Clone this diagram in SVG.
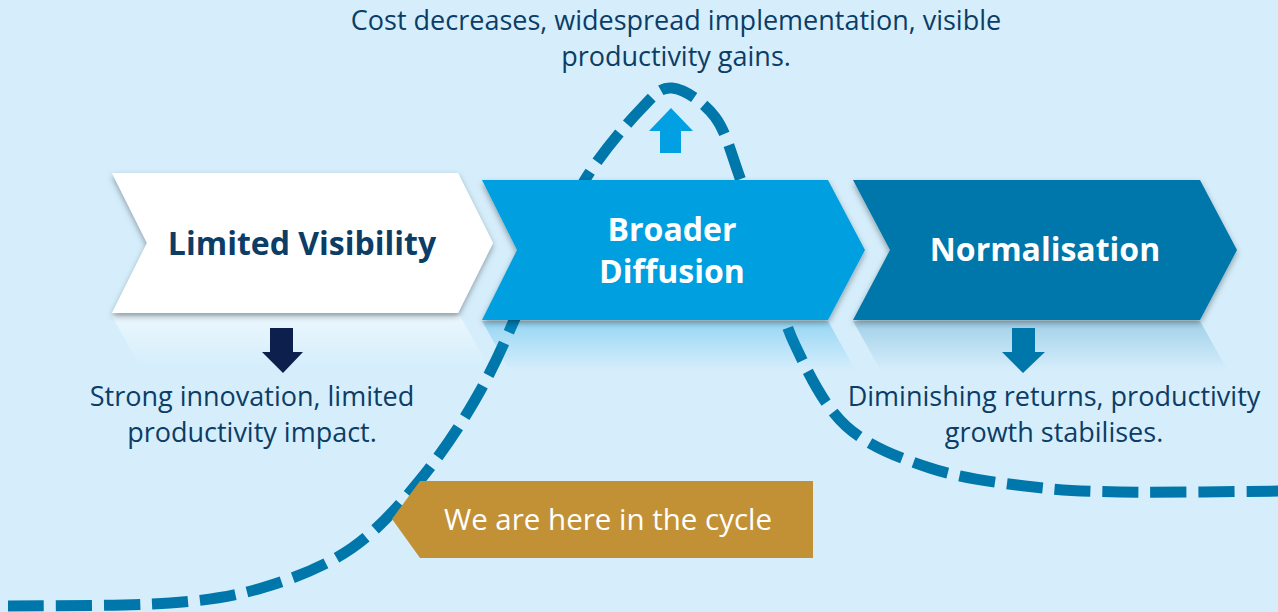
<svg xmlns="http://www.w3.org/2000/svg" width="1278" height="612" viewBox="0 0 1278 612">
<defs>
<style>
.t{font-family:"Open Sans","Noto Sans","Liberation Sans",sans-serif;}
.body{font-size:27px;fill:#0B3D66;text-anchor:middle;}
.title{font-size:32px;font-weight:bold;text-anchor:middle;}
.curve{fill:none;stroke:#0077AA;stroke-width:11;stroke-dasharray:36 12;}
</style>
<filter id="sh" x="-10%" y="-10%" width="120%" height="130%">
<feDropShadow dx="0" dy="3" stdDeviation="3" flood-color="#000" flood-opacity="0.35"/>
</filter>
<linearGradient id="rw" x1="0" y1="0" x2="0" y2="1">
<stop offset="0" stop-color="#ffffff" stop-opacity="0.5"/>
<stop offset="1" stop-color="#ffffff" stop-opacity="0"/>
</linearGradient>
<linearGradient id="rb" x1="0" y1="0" x2="0" y2="1">
<stop offset="0" stop-color="#009FE0" stop-opacity="0.3"/>
<stop offset="1" stop-color="#009FE0" stop-opacity="0"/>
</linearGradient>
<linearGradient id="rd" x1="0" y1="0" x2="0" y2="1">
<stop offset="0" stop-color="#0077AA" stop-opacity="0.25"/>
<stop offset="1" stop-color="#0077AA" stop-opacity="0"/>
</linearGradient>
</defs>
<rect width="1278" height="612" fill="#D6EEFC"/>

<g id="connectors">
<path class="curve" d="M8,606 C35,605.5 127,606.2 170,603 C213,600 235,596 265,587 C295,578 326,566 352,548 C378,530 399.5,505 420,480 C440.5,455 460,426 475,400 C490,374 499.5,354 512,325 C524.5,296 537.3,275 550,250 C562.7,225 573,198.3 588,175 C603,151.7 626,124.5 640,110 C654,95.5 659.5,86.8 672,88 C684.5,89.2 703.7,102 715,117 C726.3,132 731.3,154.2 740,178 C748.7,201.8 757.8,232.2 767,260 C776.2,287.8 781.8,317.3 795,345 C808.2,372.7 823.5,405.5 846,426 C868.5,446.5 900,458 930,468 C960,478 993.3,482 1025,486 C1056.7,490 1077.8,491.2 1120,492 C1162,492.8 1251.7,491.2 1290,491"/>
</g>

<g id="reflections">
<polygon points="112,316 460,316 488,366 140,366" fill="url(#rw)"/>
<polygon points="482,321 828,321 856,371 510,371" fill="url(#rb)"/>
<polygon points="853,321 1200,321 1228,371 881,371" fill="url(#rd)"/>
</g>

<g id="node-limited-visibility">
<polygon points="112,173 458,173 493,243 458,313 112,313 147,243" fill="#FFFFFF" filter="url(#sh)"/>
<text class="t title" x="302" y="255" fill="#0B3D66">Limited Visibility</text>
</g>

<g id="node-broader-diffusion">
<polygon points="482,180 828,180 865,250 828,320 482,320 517,250" fill="#009FE0" filter="url(#sh)"/>
<text class="t title" x="672" y="241" fill="#FFFFFF">Broader</text>
<text class="t title" x="672" y="283" fill="#FFFFFF">Diffusion</text>
</g>

<g id="node-normalisation">
<polygon points="853,180 1200,180 1237,250 1200,320 853,320 890,250" fill="#0077AA" filter="url(#sh)"/>
<text class="t title" x="1045" y="261" fill="#FFFFFF">Normalisation</text>
</g>

<g id="arrow-down-1">
<polygon points="270,328 293,328 293,352 303,352 283,373 262,352 270,352" fill="#0D1F4D"/>
</g>
<g id="arrow-down-2">
<polygon points="1012,328 1035,328 1035,352 1045,352 1023,373 1002,352 1012,352" fill="#0077AA"/>
</g>
<g id="arrow-up">
<polygon points="660,153 681,153 681,131 693,131 671,108 649,131 660,131" fill="#00A0E3"/>
</g>

<g id="label-top">
<text class="t body" x="676" y="30">Cost decreases, widespread implementation, visible</text>
<text class="t body" x="676" y="66">productivity gains.</text>
</g>
<g id="label-left">
<text class="t body" x="252" y="406">Strong innovation, limited</text>
<text class="t body" x="252" y="442">productivity impact.</text>
</g>
<g id="label-right">
<text class="t body" x="1054" y="406">Diminishing returns, productivity</text>
<text class="t body" x="1054" y="442">growth stabilises.</text>
</g>

<g id="node-here">
<polygon points="392,519 420,481 813,481 813,558 420,558" fill="#C29135"/>
<text class="t" x="608" y="530" font-size="29.5" fill="#FFFFFF" text-anchor="middle">We are here in the cycle</text>
</g>
</svg>
